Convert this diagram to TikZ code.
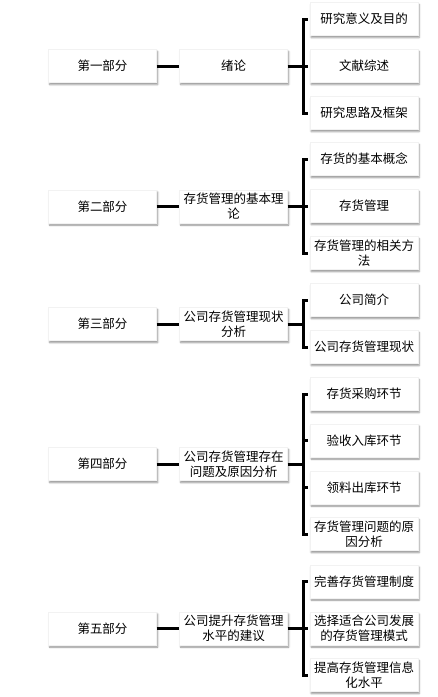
\documentclass[tikz,border=0pt]{standalone}
\usepackage{fontspec}
\setmainfont{Noto Sans CJK SC}
\usetikzlibrary{shadows.blur}
\begin{document}
\begin{tikzpicture}[x=1pt,y=-1pt,
  box/.style={fill=white,draw=gray!10,line width=0.4pt,minimum width=108pt,minimum height=33pt,inner sep=1pt,align=center,
    font=\fontsize{12.5}{15}\selectfont,
    blur shadow={shadow xshift=1.2pt,shadow yshift=-2pt,shadow blur radius=1.8pt,shadow opacity=45}},
  conn/.style={line width=3pt,black,line join=miter}]
\useasboundingbox (0,0) rectangle (438,697);
% columns
\def\xl{102.5}\def\xm{233.5}\def\xr{364}\def\xb{303}
% section 1
\node[box] (L1) at (\xl,66) {第一部分};
\node[box] (M1) at (\xm,66) {绪论};
\node[box] (R11) at (\xr,19) {研究意义及目的};
\node[box] (R12) at (\xr,66) {文献综述};
\node[box] (R13) at (\xr,113) {研究思路及框架};
% section 2
\node[box] (L2) at (\xl,206.5) {第二部分};
\node[box] (M2) at (\xm,206.5) {存货管理的基本理\\论};
\node[box] (R21) at (\xr,159) {存货的基本概念};
\node[box] (R22) at (\xr,206) {存货管理};
\node[box] (R23) at (\xr,253) {存货管理的相关方\\法};
% section 3
\node[box] (L3) at (\xl,324) {第三部分};
\node[box] (M3) at (\xm,324) {公司存货管理现状\\分析};
\node[box] (R31) at (\xr,300) {公司简介};
\node[box] (R32) at (\xr,347) {公司存货管理现状};
% section 4
\node[box] (L4) at (\xl,464) {第四部分};
\node[box] (M4) at (\xm,464) {公司存货管理存在\\问题及原因分析};
\node[box] (R41) at (\xr,394) {存货采购环节};
\node[box] (R42) at (\xr,440.5) {验收入库环节};
\node[box] (R43) at (\xr,487.5) {领料出库环节};
\node[box] (R44) at (\xr,534) {存货管理问题的原\\因分析};
% section 5
\node[box] (L5) at (\xl,628.5) {第五部分};
\node[box] (M5) at (\xm,628.5) {公司提升存货管理\\水平的建议};
\node[box] (R51) at (\xr,581.5) {完善存货管理制度};
\node[box] (R52) at (\xr,628.5) {选择适合公司发展\\的存货管理模式};
\node[box] (R53) at (\xr,675) {提高存货管理信息\\化水平};
% connectors
\foreach \s in {1,...,5} {
  \draw[conn] (L\s) -- (M\s);
  \coordinate (b\s) at (\xb,0);
  \draw[conn] (M\s.east) -- (M\s.east -| b\s);
}
\draw[conn] ([xshift=-2]R11.west) -- (R11.west -| b1) -- (R13.west -| b1) -- ([xshift=-2]R13.west);
\draw[conn] (R12.west -| b1) -- ([xshift=-2]R12.west);
\draw[conn] ([xshift=-2]R21.west) -- (R21.west -| b2) -- (R23.west -| b2) -- ([xshift=-2]R23.west);
\draw[conn] (R22.west -| b2) -- ([xshift=-2]R22.west);
\draw[conn] ([xshift=-2]R31.west) -- (R31.west -| b3) -- (R32.west -| b3) -- ([xshift=-2]R32.west);
\draw[conn] ([xshift=-2]R41.west) -- (R41.west -| b4) -- (R44.west -| b4) -- ([xshift=-2]R44.west);
\draw[conn] (R42.west -| b4) -- ([xshift=-2]R42.west);
\draw[conn] (R43.west -| b4) -- ([xshift=-2]R43.west);
\draw[conn] ([xshift=-2]R51.west) -- (R51.west -| b5) -- (R53.west -| b5) -- ([xshift=-2]R53.west);
\draw[conn] (R52.west -| b5) -- ([xshift=-2]R52.west);
\end{tikzpicture}
\end{document}
